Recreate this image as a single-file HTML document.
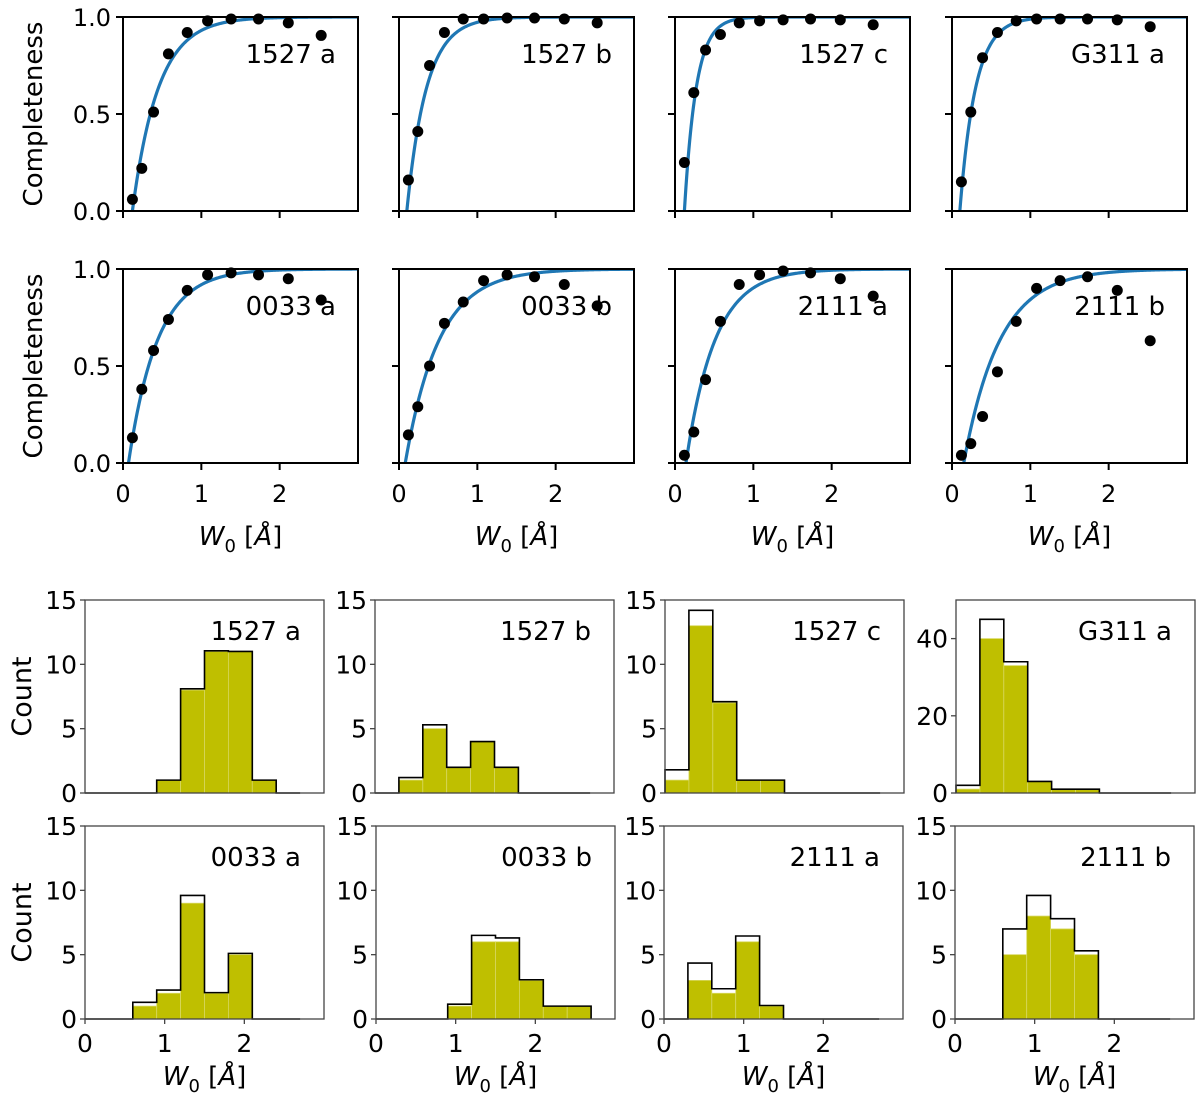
<!DOCTYPE html>
<html><head><meta charset="utf-8"><style>
body{margin:0;background:#fff;}
svg{display:block;font-family:"DejaVu Sans","Liberation Sans",sans-serif;}
</style></head><body>
<svg id="fig" width="1200" height="1101" viewBox="0 0 1200 1101"></svg>
<script>
// ---------- completeness data ----------
const compLabels = ["1527 a","1527 b","1527 c","G311 a","0033 a","0033 b","2111 a","2111 b"];
const compW = [0.12,0.24,0.39,0.58,0.82,1.08,1.38,1.73,2.11,2.53];
const comp1527a = [0.06,0.22,0.51,0.81,0.92,0.98,0.99,0.99,0.97,0.905];
const comp1527b = [0.16,0.41,0.75,0.92,0.99,0.99,0.995,0.995,0.99,0.97];
const comp1527c = [0.25,0.61,0.83,0.91,0.97,0.98,0.985,0.99,0.985,0.96];
const compG311a = [0.15,0.51,0.79,0.92,0.98,0.99,0.99,0.99,0.985,0.95];
const comp0033a = [0.13,0.38,0.58,0.74,0.89,0.97,0.98,0.97,0.95,0.84];
const comp0033b = [0.145,0.29,0.50,0.72,0.83,0.94,0.97,0.96,0.92,0.81];
const comp2111a = [0.04,0.16,0.43,0.73,0.92,0.97,0.99,0.98,0.95,0.86];
const comp2111b = [0.04,0.10,0.24,0.47,0.73,0.90,0.94,0.96,0.89,0.63];
const fitW0 = [0.12,0.10,0.12,0.10,0.07,0.08,0.14,0.15];
const fitScale = [0.33,0.25,0.15,0.20,0.37,0.43,0.37,0.46];
const compTicksY = [0,0.5,1.0];
const compTickLabelsY = ["0.0","0.5","1.0"];
const xTicks = [0,1,2];

// ---------- histogram data ----------
const histLabels = ["1527 a","1527 b","1527 c","G311 a","0033 a","0033 b","2111 a","2111 b"];
const binEdges = [0,0.3,0.6,0.9,1.2,1.5,1.8,2.1,2.4,2.7];
const fill1527a = [0,0,0,1,8,11,11,1,0];
const tot1527a  = [0,0,0,1,8.1,11.05,11,1,0];
const fill1527b = [0,1,5,2,4,2,0,0,0];
const tot1527b  = [0,1.2,5.3,2,4,2,0,0,0];
const fill1527c = [1,13,7,1,1,0,0,0,0];
const tot1527c  = [1.8,14.2,7.1,1,1,0,0,0,0];
const fillG311a = [1,40,33,3,1,1,0,0,0];
const totG311a  = [2,45,34,3,1,1,0,0,0];
const fill0033a = [0,0,1,2,9,2,5,0,0];
const tot0033a  = [0,0,1.3,2.25,9.6,2.05,5.1,0,0];
const fill0033b = [0,0,0,1,6,6,3,1,1];
const tot0033b  = [0,0,0,1.15,6.5,6.3,3.05,1,1];
const fill2111a = [0,3,2,6,1,0,0,0,0];
const tot2111a  = [0,4.35,2.35,6.45,1.05,0,0,0,0];
const fill2111b = [0,0,5,8,7,5,0,0,0];
const tot2111b  = [0,0,7,9.6,7.8,5.3,0,0,0];
const histYMax = [15,15,15,50,15,15,15,15];
const histTicks15 = [0,5,10,15];
const histTicks50 = [0,20,40];

const compSeries=[comp1527a,comp1527b,comp1527c,compG311a,comp0033a,comp0033b,comp2111a,comp2111b];
const fillSeries=[fill1527a,fill1527b,fill1527c,fillG311a,fill0033a,fill0033b,fill2111a,fill2111b];
const totSeries=[tot1527a,tot1527b,tot1527c,totG311a,tot0033a,tot0033b,tot2111a,tot2111b];

const NS="http://www.w3.org/2000/svg";
const svg=document.getElementById('fig');
function mk(tag,attrs,parent){const e=document.createElementNS(NS,tag);for(const k in attrs)e.setAttribute(k,attrs[k]);(parent||svg).appendChild(e);return e;}
function txt(s,attrs,parent){const t=mk('text',attrs,parent);t.textContent=s;return t;}
const XL='<tspan font-style="italic">W</tspan><tspan font-size="18" dy="7">0</tspan><tspan dy="-7"> [</tspan><tspan font-style="italic">Å</tspan>]';

// ---- completeness panels ----
const cLeft=[123,399,675,952], cTop=[17,269], cW=235, cH=194;
for(let i=0;i<8;i++){
  const col=i%4,row=Math.floor(i/4);
  const x0=cLeft[col],y0=cTop[row];
  const X=w=>x0+w/3.0*cW, Y=v=>y0+cH-v*cH;
  const g=mk('g',{});
  
  
  const cid='clipc'+i;
  const cp=mk('clipPath',{id:cid},g);mk('rect',{x:x0,y:y0,width:cW,height:cH},cp);
  let d='';
  for(let k=0;k<=300;k++){const w=fitW0[i]+k*(3-fitW0[i])/300;const v=1-Math.exp(-(w-fitW0[i])/fitScale[i]);d+=(k?'L':'M')+X(w).toFixed(2)+','+Y(v).toFixed(2);}
  const fit=mk('path',{d:d,fill:'none',stroke:'#1f77b4','stroke-width':3.2,'clip-path':'url(#'+cid+')'},g);
  
  
  compSeries[i].forEach((v,k)=>{
    const c=mk('circle',{cx:X(compW[k]),cy:Y(v),r:5.5,fill:'#000'},g);
    
    
  });
  mk('rect',{x:x0,y:y0,width:cW,height:cH,fill:'none',stroke:'#000','stroke-width':2},g);
  compTicksY.forEach((v,k)=>{
    mk('line',{x1:x0-7,x2:x0,y1:Y(v),y2:Y(v),stroke:'#000','stroke-width':2},g);
    if(col===0){const t=txt(compTickLabelsY[k],{x:x0-12,y:Y(v)+9,'font-size':24,'text-anchor':'end'},g);
      }
  });
  xTicks.forEach(w=>{
    mk('line',{x1:X(w),x2:X(w),y1:y0+cH,y2:y0+cH+7,stroke:'#000','stroke-width':2},g);
    if(row===1){const t=txt(String(w),{x:X(w),y:y0+cH+39,'font-size':24,'text-anchor':'middle'},g);
      }
  });
  const lab=txt(compLabels[i],{x:x0+cW-22,y:y0+46,'font-size':26,'text-anchor':'end'},g);
  
  
  if(col===0){const yl=txt('Completeness',{x:0,y:0,'font-size':26,'text-anchor':'middle',transform:'translate(42,'+(y0+cH/2)+') rotate(-90)'},g);
    }
  if(row===1){const xl=mk('text',{x:x0+cW/2,y:y0+cH+82,'font-size':26,'text-anchor':'middle'},g);
    xl.innerHTML=XL;
    }
}

// ---- histogram panels ----
const hLeft=[[85,375,665,956],[85,376,664,955]], hTop=[600,826], hW=239, hH=193;
for(let i=0;i<8;i++){
  const col=i%4,row=Math.floor(i/4);
  const x0=hLeft[row][col],y0=hTop[row],ym=histYMax[i];
  const X=w=>x0+w/3.0*hW, Y=v=>y0+hH-v/ym*hH;
  const g=mk('g',{});
  
  
  fillSeries[i].forEach((v,k)=>{
    if(v<=0)return;
    const r=mk('rect',{x:X(binEdges[k]),y:Y(v),width:X(binEdges[k+1])-X(binEdges[k]),height:Y(0)-Y(v),fill:'#bfbf00',stroke:'#d8d860','stroke-width':0.8},g);
    
    
  });
  const tv=totSeries[i];
  let d='M'+X(binEdges[0])+','+Y(0);
  tv.forEach((v,k)=>{d+='L'+X(binEdges[k]).toFixed(2)+','+Y(v).toFixed(2)+'L'+X(binEdges[k+1]).toFixed(2)+','+Y(v).toFixed(2);});
  d+='L'+X(binEdges[binEdges.length-1]).toFixed(2)+','+Y(0);
  const st=mk('path',{d:d,fill:'none',stroke:'#000','stroke-width':1.6},g);
  
  
  mk('rect',{x:x0,y:y0,width:hW,height:hH,fill:'none',stroke:'#444','stroke-width':1.3},g);
  const ticks=ym===50?histTicks50:histTicks15;
  ticks.forEach(v=>{
    mk('line',{x1:x0-5,x2:x0,y1:Y(v),y2:Y(v),stroke:'#444','stroke-width':1.3},g);
    const t=txt(String(v),{x:x0-8,y:Y(v)+9,'font-size':25,'text-anchor':'end'},g);
    
  });
  if(row===1){
    xTicks.forEach(w=>{
      mk('line',{x1:X(w),x2:X(w),y1:y0+hH,y2:y0+hH+5,stroke:'#444','stroke-width':1.3},g);
      const t=txt(String(w),{x:X(w),y:y0+hH+33,'font-size':25,'text-anchor':'middle'},g);
      
    });
    const xl=mk('text',{x:x0+hW/2,y:y0+hH+66,'font-size':26,'text-anchor':'middle'},g);
    xl.innerHTML=XL;
    
  }
  const lab=txt(histLabels[i],{x:x0+hW-23,y:y0+40,'font-size':26,'text-anchor':'end'},g);
  
  
  if(col===0){const yl=txt('Count',{x:0,y:0,'font-size':27,'text-anchor':'middle',transform:'translate(31,'+(y0+hH/2)+') rotate(-90)'},g);
    }
}
</script>
</body></html>
